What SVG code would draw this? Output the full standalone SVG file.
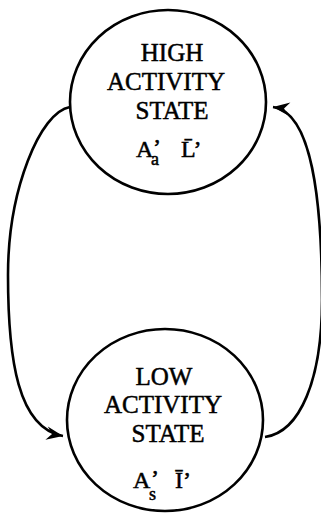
<svg xmlns="http://www.w3.org/2000/svg" width="321" height="514" viewBox="0 0 321 514">
<style>
.node{fill:#fff;stroke:#000;stroke-width:2.6}
.lbl{font-family:"Liberation Serif","Times New Roman",serif;font-size:25px;fill:#000;stroke:#000;stroke-width:0.5;text-anchor:middle}
.sym{font-family:"Liberation Serif","Times New Roman",serif;font-size:24px;fill:#000;stroke:#000;stroke-width:0.5}
.sub{font-size:18px}
.edge{fill:none;stroke:#000;stroke-width:2.6}
</style>
<defs>
<marker id="arr" markerUnits="userSpaceOnUse" markerWidth="20" markerHeight="20" viewBox="-16 -8 18 16" refX="0" refY="0" orient="auto">
<path d="M0,0 L-15,-6 L-10,0 L-15,6 Z" fill="#000"/>
</marker>
</defs>
<g id="connectors">
<path class="edge" d="M70,107 C 40,112 8,190 8,275 C 8,360 18,428 63,436" marker-end="url(#arr)"/>
<path class="edge" d="M265,437 C 300,432 322,380 322,300 C 322,200 312,112 273,107" marker-end="url(#arr)"/>
</g>
<g id="high">
<ellipse class="node" cx="168" cy="102" rx="98" ry="92"/>
<text class="lbl" x="172" y="61">HIGH</text>
<text class="lbl" x="166" y="90">ACTIVITY</text>
<text class="lbl" x="172" y="119">STATE</text>
<text class="sym" x="136" y="157">A</text>
<text class="sym" x="153" y="155">’</text>
<text class="sym sub" x="151" y="165">a</text>
<text class="sym" x="181" y="157">L̄’</text>
</g>
<g id="low">
<ellipse class="node" cx="165" cy="420" rx="98" ry="91"/>
<text class="lbl" x="164" y="385">LOW</text>
<text class="lbl" x="163" y="413">ACTIVITY</text>
<text class="lbl" x="168" y="442">STATE</text>
<text class="sym" x="133" y="488">A</text>
<text class="sym" x="151" y="486">’</text>
<text class="sym sub" x="149" y="500">s</text>
<text class="sym" x="175" y="488">Ī’</text>
</g>
</svg>
